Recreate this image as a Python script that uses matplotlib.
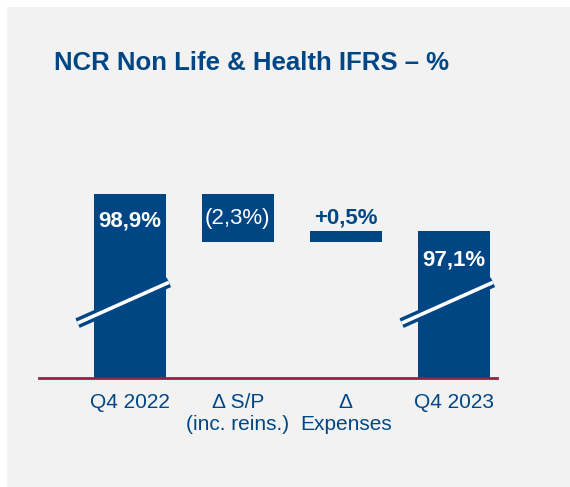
#Used for making plots
import matplotlib.pyplot as plt
#Library used to do maths
import numpy as np
from matplotlib.patches import Rectangle

plt.rcParams['font.family'] = ['Liberation Sans', 'DejaVu Sans']

#Waterfall values (combined ratio, %)
categories = ['Q4 2022', 'Δ S/P\n(inc. reins.)', 'Δ\nExpenses', 'Q4 2023']
start_value = 98.9
deltas = [-2.3, 0.5]
end_value = 97.1
#Where the broken axis is cut
axis_floor = 90.1

navy = '#004685'
baseline_red = '#9e1c48'

#Work out bar bottoms and heights for the waterfall
levels = np.cumsum([start_value] + deltas)
bottoms = [axis_floor]
heights = [start_value - axis_floor]
for i, d in enumerate(deltas):
    bottoms.append(min(levels[i], levels[i + 1]))
    heights.append(abs(d))
bottoms.append(axis_floor)
heights.append(end_value - axis_floor)

fig = plt.figure(figsize=(5.7, 4.87), dpi=100, facecolor='white')
#Gray panel behind everything
fig.patches.append(Rectangle((7 / 570, -0.1), 1, 1.1 - 7 / 487, transform=fig.transFigure,
                             facecolor='#f2f2f2', edgecolor='none', zorder=-5))

ax = fig.add_axes([39 / 570, 1 - 378 / 487, (497 - 39) / 570, (378 - 100) / 487])
ax.set_facecolor('none')

x = np.arange(len(categories))
ax.bar(x, heights, bottom=bottoms, width=0.667, color=navy, zorder=2)

ax.set_xlim(-0.84, 3.40)
ax.set_ylim(axis_floor, 103.38)

#Baseline
ax.axhline(axis_floor, color=baseline_red, lw=2, zorder=4, clip_on=False)

#Axis break marks on the two total bars
for xi in [0, 3]:
    xs = [xi - 0.333 - 0.15, xi + 0.333 + 0.03]
    ys = [92.72, 94.67]
    ax.plot(xs, ys, color=navy, lw=7.5, solid_capstyle='butt', zorder=3)
    ax.plot(xs, ys, color='white', lw=2.6, solid_capstyle='butt', zorder=3)

def fmt(v):
    return f"{v:.1f}%".replace('.', ',')

#Value labels
ax.text(0, start_value - 1.3, fmt(start_value), color='white', fontsize=16,
        fontweight='bold', ha='center', va='center', zorder=5)
ax.text(1, levels[1] + 1.12, '(' + fmt(abs(deltas[0])) + ')', color='white', fontsize=16,
        ha='center', va='center', zorder=5)
ax.text(2, levels[2] + 0.62, '+' + fmt(deltas[1]), color=navy, fontsize=16,
        fontweight='bold', ha='center', va='center', zorder=5)
ax.text(3, end_value - 1.38, fmt(end_value), color='white', fontsize=16,
        fontweight='bold', ha='center', va='center', zorder=5)

ax.set_xticks(x)
ax.set_xticklabels(categories, fontsize=15, color=navy, linespacing=1.2)
ax.tick_params(axis='x', length=0, pad=11)
ax.set_yticks([])
for s in ax.spines.values():
    s.set_visible(False)

#Title
fig.text(54 / 570, 1 - 70 / 487, 'NCR Non Life & Health IFRS – %', fontsize=18.5,
         fontweight='bold', color=navy, va='baseline')

fig.savefig('out.png', dpi=100, facecolor=fig.get_facecolor())
